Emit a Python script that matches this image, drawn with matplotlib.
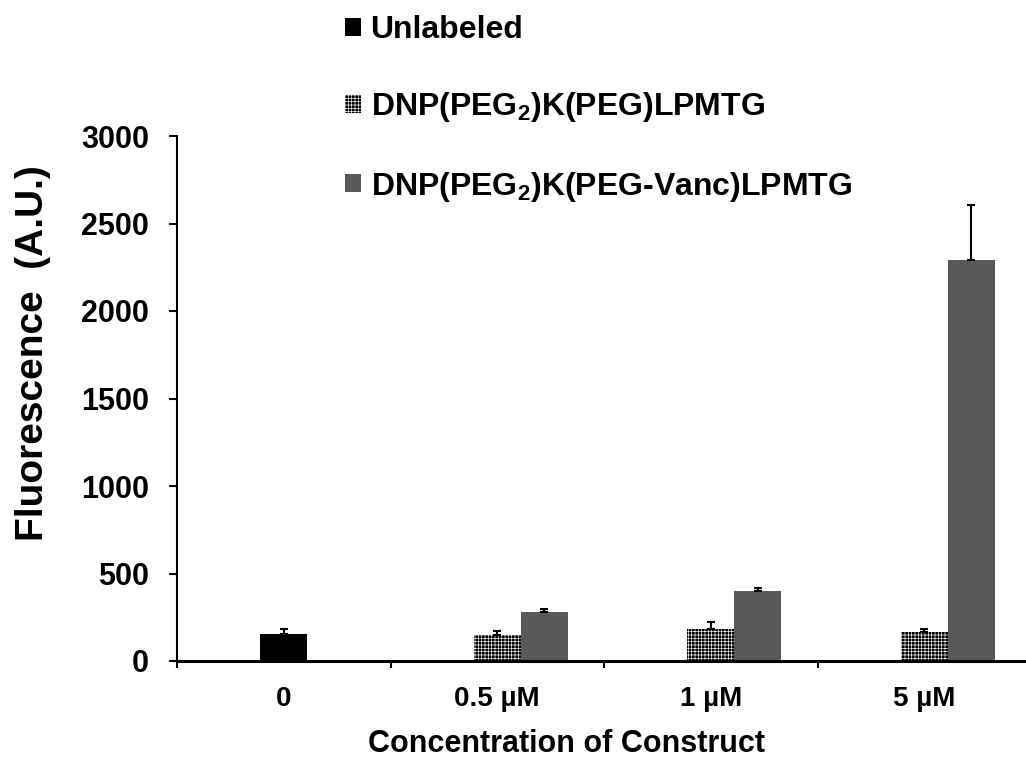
import matplotlib
matplotlib.use("Agg")
import matplotlib.pyplot as plt
import numpy as np

# data
categories = ["0", "0.5 µM", "1 µM", "5 µM"]
unlabeled_idx = [0]
unlabeled_mean = [155]
unlabeled_err = [28]
peg_idx = [1, 2, 3]
peg_mean = [150, 183, 166]
peg_err = [20, 40, 17]
vanc_idx = [1, 2, 3]
vanc_mean = [280, 400, 2292]
vanc_err = [17, 17, 315]
yticks = [0, 500, 1000, 1500, 2000, 2500, 3000]

plt.rcParams['font.family'] = ['Liberation Sans', 'DejaVu Sans']
plt.rcParams['font.weight'] = 'bold'
plt.rcParams['mathtext.fontset'] = 'custom'
plt.rcParams['mathtext.bf'] = 'Liberation Sans:bold'
plt.rcParams['mathtext.rm'] = 'Liberation Sans:bold'
plt.rcParams['mathtext.default'] = 'bf'
plt.rcParams['hatch.linewidth'] = 0.45

W, H = 1026, 767
fig = plt.figure(figsize=(W / 100, H / 100), dpi=100)
# plot area runs past the right edge of the picture, as in the original
x0, y0 = 177, 661
slot = 213.5
ax = fig.add_axes([x0 / W, (H - y0) / H, 5 * slot / W, (661 - 136) / H])

bw = 0.22
err_kw = dict(ecolor='black', elinewidth=1.5, capsize=3, capthick=1.5)

def up(e):
    return [np.zeros(len(e)), e]

b1 = ax.bar(np.array(unlabeled_idx) + 0.5, unlabeled_mean, bw, color='black',
            yerr=up(unlabeled_err), error_kw=err_kw, label='Unlabeled')
b2 = ax.bar(np.array(peg_idx) + 0.5, peg_mean, bw, color='black',
            edgecolor='white', linewidth=0, hatch='+++++',
            yerr=up(peg_err), error_kw=err_kw, label=r'DNP(PEG$_2$)K(PEG)LPMTG')
b3 = ax.bar(np.array(vanc_idx) + 0.5 + bw, vanc_mean, bw, color='#595959',
            yerr=up(vanc_err), error_kw=err_kw,
            label=r'DNP(PEG$_2$)K(PEG-Vanc)LPMTG')

ax.set_xlim(0, 5)
ax.set_ylim(0, 3000)
ax.set_yticks(yticks)
ax.set_xticks(range(5))
ax.set_xticklabels([])
ax.set_xticks(np.arange(len(categories)) + 0.5, minor=True)
ax.set_xticklabels(categories, minor=True)
ax.tick_params(axis='x', which='major', direction='out', length=5, width=1.5)
ax.tick_params(axis='x', which='minor', length=0, pad=18, labelsize=20)
ax.tick_params(axis='y', direction='out', length=6, width=1.5, pad=14, labelsize=22)

for s in ['top', 'right']:
    ax.spines[s].set_visible(False)
ax.spines['left'].set_linewidth(1.5)
ax.spines['bottom'].set_linewidth(2.2)

fig.text(566 / W, (H - 744) / H, 'Concentration of Construct',
         fontsize=22, fontweight='bold', ha='center', va='center')
fig.text(33 / W, (H - 353) / H, 'Fluorescence  (A.U.)', rotation=90,
         fontsize=28, fontweight='bold', ha='center', va='center')

fig.legend(handles=[b1, b2, b3], loc='upper left',
           bbox_to_anchor=(345 / W, (H - 15) / H), frameon=False,
           prop={'family': 'Liberation Sans', 'weight': 'bold', 'size': 23},
           handlelength=0.5, handleheight=0.5, handletextpad=0.3,
           labelspacing=1.42, borderpad=0, borderaxespad=0)

fig.savefig('out.png', dpi=100)
